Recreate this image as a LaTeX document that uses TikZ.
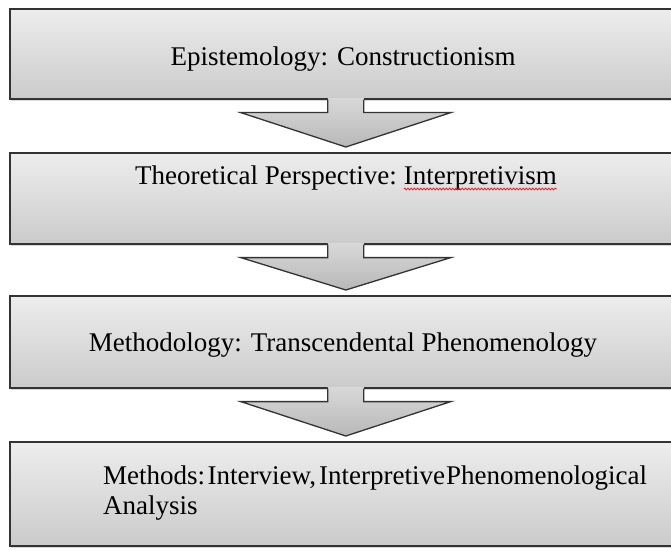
\documentclass[tikz,border=0pt]{standalone}
\usepackage{fontspec}
\setmainfont{Liberation Serif}
\usetikzlibrary{decorations.pathmorphing,shadows}
\definecolor{edgecol}{HTML}{333333}
\definecolor{boxtop}{HTML}{EDEDED}
\definecolor{boxbot}{HTML}{CBCBCB}
\definecolor{arrtop}{HTML}{D8D8D8}
\definecolor{arrbot}{HTML}{B8B8B8}
\definecolor{wavycol}{HTML}{E02020}
\newcommand{\dnarrow}[2]{%
  \path[top color=arrtop, bottom color=arrbot]
    ([shift={(-18,1.5)}]#1.south) -- ([shift={(-18,-13)}]#1.south) --
    ([shift={(-105,-13)}]#1.south) -- ([yshift=5]#2.north) --
    ([shift={(105,-13)}]#1.south) -- ([shift={(18,-13)}]#1.south) --
    ([shift={(18,1.5)}]#1.south) -- cycle;
  \draw[arrowedge]
    ([xshift=-18]#1.south) -- ([shift={(-18,-13)}]#1.south) --
    ([shift={(-105,-13)}]#1.south) -- ([yshift=5]#2.north) --
    ([shift={(105,-13)}]#1.south) -- ([shift={(18,-13)}]#1.south) --
    ([xshift=18]#1.south);
}
\begin{document}
\begin{tikzpicture}[x=1pt,y=1pt,
  stepbox/.style={rectangle, draw=edgecol, line width=1.6pt,
    top color=boxtop, bottom color=boxbot, inner sep=0pt,
    minimum width=672pt, anchor=north west,
    drop shadow={shadow xshift=1.5pt, shadow yshift=-2.5pt, opacity=0.3, fill=gray}},
  arrowedge/.style={draw=edgecol, line width=1.3pt, line join=miter},
  txt/.style={font=\fontsize{27}{31}\selectfont, inner sep=0pt, text=black}]
\useasboundingbox (0,0) rectangle (671,550);
\clip (0,0) rectangle (671,550);
\fill[white] (0,0) rectangle (671,550);

\node[stepbox, minimum height=90pt] (b1) at (9,542) {};
\node[stepbox, minimum height=91pt] (b2) at (9,398) {};
\node[stepbox, minimum height=92pt] (b3) at (9,255) {};
\node[stepbox, minimum height=104pt] (b4) at (9,109) {};

\dnarrow{b1}{b2}
\dnarrow{b2}{b3}
\dnarrow{b3}{b4}

\node[txt, anchor=base] (t1) at (343,484) {Epistemology: Constructionism};
\node[txt, anchor=base west] (t2a) at (135,366) {Theoretical Perspective:};
\node[txt, anchor=base west] (t2b) at ([xshift=6.75pt]t2a.base east) {Interpretivism};
\draw[wavycol, line width=0.8pt, decorate,
  decoration={snake, amplitude=0.9pt, segment length=3.2pt}]
  ([yshift=-5pt]t2b.base west) -- ([yshift=-5pt]t2b.base east);
\node[txt, anchor=base] (t3) at (343,199) {Methodology: Transcendental Phenomenology};
\node[txt, anchor=base west] (t4a) at (103,66) {Methods:\hspace{2.5pt}Interview,\hspace{3pt}Interpretive\hspace{1pt}Phenomenological};
\node[txt, anchor=base west] (t4b) at (103,36) {Analysis};
\end{tikzpicture}
\end{document}
